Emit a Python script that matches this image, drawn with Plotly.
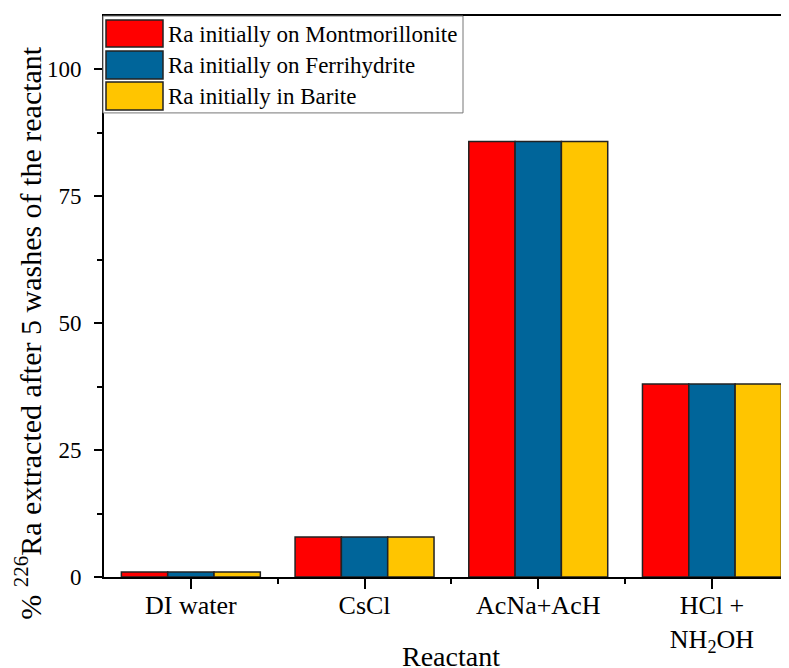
import plotly.graph_objects as go

categories = ["DI water", "CsCl", "AcNa+AcH", "HCl +<br>NH<sub>2</sub>OH"]
series_names = ["Ra initially on Montmorillonite", "Ra initially on Ferrihydrite", "Ra initially in Barite"]
montmorillonite = [1.0, 7.9, 85.8, 38.0]
ferrihydrite = [1.0, 7.9, 85.8, 38.0]
barite = [1.0, 7.9, 85.8, 38.0]
y_ticks = [0, 25, 50, 75, 100]

colors = ["#FF0000", "#00659A", "#FFC500"]
FONT = "Liberation Serif"

OFF = 8  # page body margin
W, H = 781, 660
L, T = 104 - OFF, 16 - OFF
B = H - (577.5 - OFF)
R = 0
PX0, PX1 = L, W - R
PY0, PY1 = H - B, T


def px(xs_):
    return (xs_ - OFF - PX0) / (PX1 - PX0)


def py(ys_):
    return (PY0 - (ys_ - OFF)) / (PY0 - PY1)


xs = list(range(len(categories)))
fig = go.Figure()
for name, vals, c in zip(series_names, [montmorillonite, ferrihydrite, barite], colors):
    fig.add_trace(go.Bar(x=xs, y=vals, name=name, marker=dict(color=c, line=dict(color="#222222", width=1.5)),
                         showlegend=False))

fig.update_layout(
    width=W, height=H,
    margin=dict(l=L, r=R, t=T, b=B, autoexpand=False),
    paper_bgcolor="white", plot_bgcolor="white",
    barmode="group", bargap=0.2, bargroupgap=0,
    font=dict(family=FONT, color="black"),
)
fig.update_xaxes(
    range=[-0.5, -0.5 + (PX1 - PX0) / 173.7], tickvals=xs, ticktext=categories,
    showline=True, linecolor="black", linewidth=2, mirror=True,
    ticks="outside", ticklen=10, tickwidth=2, tickcolor="black",
    minor=dict(tickvals=[0.5, 1.5, 2.5], ticks="outside", ticklen=5, tickwidth=2, tickcolor="black"),
    showgrid=False, zeroline=False, ticklabelstandoff=-6,
    tickfont=dict(size=26, family=FONT, color="black"),
)
fig.update_yaxes(
    range=[0, 110.5], tickvals=y_ticks,
    showline=True, linecolor="black", linewidth=2, mirror=False,
    ticks="outside", ticklen=8, tickwidth=2, tickcolor="black",
    minor=dict(dtick=12.5, tick0=0, ticks="outside", ticklen=5, tickwidth=2, tickcolor="black"),
    showgrid=False, zeroline=False, ticklabelstandoff=8,
    tickfont=dict(size=23, family=FONT, color="black"),
)

# axis titles
fig.add_annotation(text="% <sup>226</sup>Ra extracted after 5 washes of the reactant",
                   xref="paper", yref="paper", x=px(28), y=py(333), textangle=-90,
                   showarrow=False, xanchor="center", yanchor="middle",
                   font=dict(size=30, family=FONT, color="black"))
fig.add_annotation(text="Reactant", xref="paper", yref="paper", x=px(451), y=py(657),
                   showarrow=False, xanchor="center", yanchor="middle",
                   font=dict(size=28, family=FONT, color="black"))

# legend box
fig.add_shape(type="rect", xref="paper", yref="paper", x0=px(103), x1=px(463), y0=py(113), y1=py(16),
              fillcolor="white", line=dict(color="#777777", width=1), layer="above")
rows = [(20, 47), (51, 79), (82, 110)]
for (y0, y1), name, c in zip(rows, series_names, colors):
    fig.add_shape(type="rect", xref="paper", yref="paper", x0=px(106), x1=px(163), y0=py(y1), y1=py(y0),
                  fillcolor=c, line=dict(color="#222222", width=1.5), layer="above")
    fig.add_annotation(text=name, xref="paper", yref="paper", x=px(166), y=py((y0 + y1) / 2 + 1),
                       showarrow=False, xanchor="left", yanchor="middle",
                       font=dict(size=23, family=FONT, color="black"))

fig.write_html("out.html")
